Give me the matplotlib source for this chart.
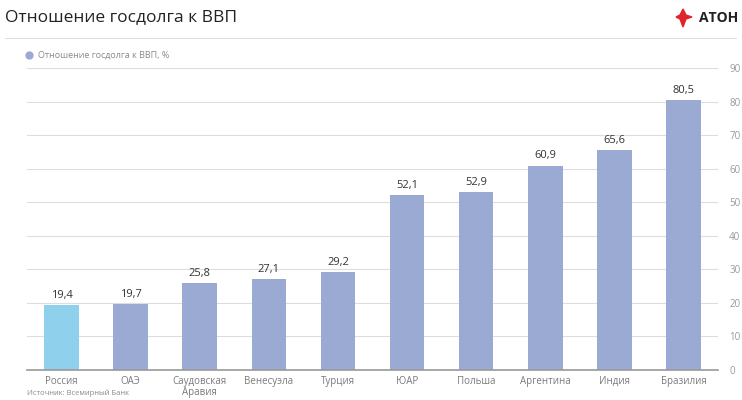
import matplotlib
matplotlib.use("Agg")
import matplotlib.pyplot as plt
from matplotlib.patches import Polygon

categories = ["Россия", "ОАЭ", "Саудовская\nАравия", "Венесуэла", "Турция",
              "ЮАР", "Польша", "Аргентина", "Индия", "Бразилия"]
values = [19.4, 19.7, 25.8, 27.1, 29.2, 52.1, 52.9, 60.9, 65.6, 80.5]
value_labels = ["19,4", "19,7", "25,8", "27,1", "29,2", "52,1", "52,9", "60,9", "65,6", "80,5"]
yticks = [0, 10, 20, 30, 40, 50, 60, 70, 80, 90]

plt.rcParams['font.family'] = ['Open Sans', 'DejaVu Sans']

fig = plt.figure(figsize=(7.42, 4.0), dpi=100)
ax = fig.add_axes([27/742, 1-370/400, 691/742, 302/400])

colors = ["#8fd0ec"] + ["#9aaad3"] * (len(values) - 1)
x = list(range(len(values)))
ax.bar(x, values, width=0.5, color=colors, zorder=3)
for xi, v, lab in zip(x, values, value_labels):
    ax.text(xi, v + 1.3, lab, ha="center", va="bottom", fontsize=8, color="#333333", zorder=4)

ax.set_xlim(-0.5, len(values) - 0.5)
ax.set_ylim(0, 90)
ax.set_yticks(yticks)
ax.yaxis.tick_right()
ax.tick_params(axis="y", length=0, pad=8, labelsize=7, labelcolor="#9a9a9a")
ax.tick_params(axis="x", length=0, pad=4, labelsize=7, labelcolor="#7a7a7a")
ax.set_xticks(x)
ax.set_xticklabels(categories, linespacing=1.1)
ax.grid(axis="y", color="#dddddd", linewidth=0.8, zorder=0)
for s in ["top", "left", "right"]:
    ax.spines[s].set_visible(False)
ax.spines["bottom"].set_color("#999999")
ax.spines["bottom"].set_linewidth(1.2)
ax.spines["bottom"].set_zorder(5)

# Header
fig.text(5/742, 1-17/400, "Отношение госдолга к ВВП", fontsize=12.5, color="#222222", va="center", ha="left")
fig.add_artist(plt.Line2D([5/742, 736/742], [1-38/400, 1-38/400], color="#e0e0e0", linewidth=0.8))
# Logo
fig.text(738/742, 1-18/400, "АТОН", fontsize=10, fontweight="bold", color="#222222", va="center", ha="right")
star = Polygon([(683/742, 1-9/400), (686/742, 1-15/400), (692/742, 1-17/400),
                (686/742, 1-19/400), (683/742, 1-27/400), (680/742, 1-19/400),
                (676/742, 1-17/400), (680/742, 1-15/400)],
               closed=True, transform=fig.transFigure, color="#e0242b")
fig.add_artist(star)

# Legend
fig.add_artist(plt.Line2D([29/742], [1-55/400], marker="o", markersize=5,
                          color="#9aaad3", linestyle="none"))
fig.text(38/742, 1-55/400, "Отношение госдолга к ВВП, %", fontsize=6.5, color="#8a8a8a", va="center", ha="left")

# Source
fig.text(27/742, 1-393/400, "Источник: Всемирный Банк", fontsize=5.5, color="#8a8a8a", va="center", ha="left")

fig.savefig("out.png", dpi=100)
